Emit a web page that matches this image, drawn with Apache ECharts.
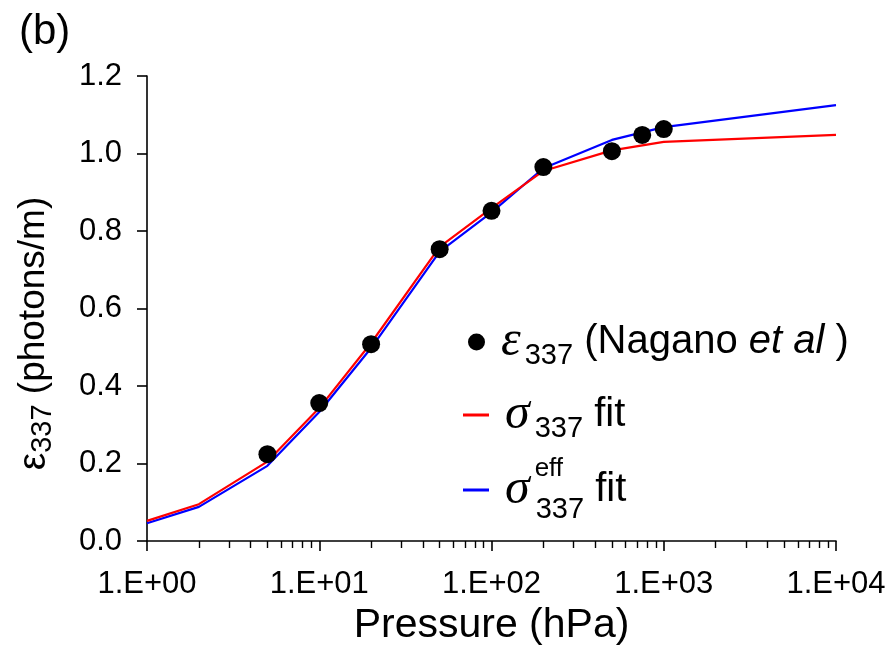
<!DOCTYPE html>
<html><head><meta charset="utf-8">
<script src="https://cdn.jsdelivr.net/npm/echarts@6/dist/echarts.min.js"></script>
<style>html,body{margin:0;padding:0;background:#fff}#c{width:892px;height:658px}</style>
</head><body><div id="c"></div>
<script>
// ---- data ----
const fitPressure = [1, 2, 5, 10, 20, 50, 100, 200, 500, 1000, 10000];
const sigmaFit    = [0.052, 0.095, 0.205, 0.343, 0.511, 0.759, 0.859, 0.955, 1.008, 1.030, 1.048];
const sigmaEffFit = [0.046, 0.088, 0.194, 0.333, 0.498, 0.747, 0.848, 0.962, 1.035, 1.068, 1.125];
const naganoPressure = [5, 10, 20, 50, 100, 200, 500, 750, 1000];
const naganoYield    = [0.224, 0.356, 0.508, 0.753, 0.852, 0.965, 1.006, 1.048, 1.063];
const xTickValues = [1, 10, 100, 1000, 10000];
const xTickLabels = ['1.E+00', '1.E+01', '1.E+02', '1.E+03', '1.E+04'];
const xMinorTickValues = [2,3,4,5,6,7,8,9, 20,30,40,50,60,70,80,90, 200,300,400,500,600,700,800,900, 2000,3000,4000,5000,6000,7000,8000,9000];
const yTickLabels = ['0.0', '0.2', '0.4', '0.6', '0.8', '1.0', '1.2'];

const FONT = 'Liberation Sans';
const SERIF = 'Liberation Serif';
const pair = (xs, ys) => xs.map((x, i) => [x, ys[i]]);

const chart = echarts.init(document.getElementById('c'), null, {renderer: 'canvas'});
const axisColor = '#000';
const H = 56;
const H3 = 68;

function makeRich(h, subH) {
  return {
    sp: {width: 11, lineHeight: h},
    sp2: {width: 11, lineHeight: h},
    gap: {width: 5, lineHeight: h},
    gap2: {width: 4, lineHeight: h},
    eps: {fontFamily: SERIF, fontStyle: 'italic', fontSize: 50, color: '#000', verticalAlign: 'middle', lineHeight: h},
    sig: {fontFamily: SERIF, fontStyle: 'italic', fontSize: 50, color: '#000', verticalAlign: 'middle', lineHeight: h},
    sub: {fontFamily: FONT, fontSize: 29, color: '#000', verticalAlign: 'bottom', lineHeight: subH},
    txt: {fontFamily: FONT, fontSize: 40, color: '#000', verticalAlign: 'middle', lineHeight: h},
    it: {fontFamily: FONT, fontStyle: 'italic', fontSize: 40, color: '#000', verticalAlign: 'middle', lineHeight: h},
    sup: {fontFamily: FONT, fontSize: 26, color: '#000', verticalAlign: 'top', lineHeight: 6, width: 1, align: 'left'}
  };
}

const legendNames = {
  nagano: '{sp|}{eps|ε}{gap2|}{sub|337}{txt| (Nagano }{it|et al}{txt| )}',
  sigma: '{sp2|}{sig|σ}{gap|}{sub|337}{txt| fit}',
  sigmaEff: '{sp2|}{sig|σ}{gap|}{sup|eff}{sub|337}{txt| fit}'
};

const option = {
  animation: false,
  backgroundColor: '#fff',
  title: {
    text: '(b)', left: 19, top: 11, padding: 0,
    textStyle: {fontFamily: FONT, fontSize: 42, fontWeight: 'normal', color: '#000', lineHeight: 42}
  },
  grid: {left: 147, right: 56, top: 76, bottom: 117, containLabel: false, outerBoundsMode: 'none'},
  legend: [
    {
      data: [{name: 'nagano', icon: 'circle'}], left: 468, top: 341 - H / 2 + 4, padding: 0, itemWidth: 17, itemHeight: 17,
      formatter: n => legendNames[n], textStyle: {rich: makeRich(H, 30)}, selectedMode: false
    },
    {
      data: [{name: 'sigma', icon: 'rect'}], left: 463, top: 413 - H / 2 + 5, padding: 0, itemWidth: 26, itemHeight: 3,
      formatter: n => legendNames[n], textStyle: {rich: makeRich(H, 30)}, selectedMode: false
    },
    {
      data: [{name: 'sigmaEff', icon: 'rect'}], left: 463, top: 489 - H3 / 2 + 1, padding: 0, itemWidth: 26, itemHeight: 3,
      formatter: n => legendNames[n], textStyle: {rich: makeRich(H3, 42)}, selectedMode: false
    }
  ],
  xAxis: [
    {
      type: 'log', logBase: 10, min: 1, max: 10000, position: 'bottom',
      axisLine: {show: true, onZero: false, lineStyle: {color: axisColor, width: 1.6}},
      axisTick: {show: true, inside: false, length: 10, customValues: xTickValues, lineStyle: {color: axisColor, width: 1.6}},
      axisLabel: {
        show: true, margin: 28, fontFamily: FONT, fontSize: 31, color: '#000',
        customValues: xTickValues,
        formatter: v => {
          let best = 0;
          xTickValues.forEach((t, i) => { if (Math.abs(Math.log10(v) - Math.log10(t)) < Math.abs(Math.log10(v) - Math.log10(xTickValues[best]))) best = i; });
          return xTickLabels[best];
        }
      },
      splitLine: {show: false},
      name: 'Pressure (hPa)', nameLocation: 'middle', nameGap: 59,
      nameTextStyle: {fontFamily: FONT, fontSize: 41, color: '#000'}
    },
    {
      type: 'log', logBase: 10, min: 1, max: 10000, position: 'bottom',
      axisLine: {show: false},
      axisTick: {show: true, inside: false, length: 7, customValues: xMinorTickValues, lineStyle: {color: axisColor, width: 1.4}},
      axisLabel: {show: false},
      splitLine: {show: false}
    }
  ],
  yAxis: {
    type: 'value', min: 0, max: 1.2, interval: 0.2,
    axisLine: {show: true, lineStyle: {color: axisColor, width: 1.6}},
    axisTick: {show: true, inside: false, length: 10, lineStyle: {color: axisColor, width: 1.6}},
    axisLabel: {
      margin: 25, fontFamily: FONT, fontSize: 31, color: '#000',
      formatter: v => yTickLabels[Math.round(v / 0.2)]
    },
    splitLine: {show: false},
    name: '{e|ε}{s|337}{t| (photons/m)}{pad|}', nameLocation: 'middle', nameGap: 90, nameRotate: 90,
    nameTextStyle: {
      fontFamily: FONT, fontSize: 38,
      rich: {
        e: {fontFamily: FONT, fontSize: 39, color: '#000', verticalAlign: 'middle', lineHeight: 46},
        s: {fontFamily: FONT, fontSize: 29, color: '#000', verticalAlign: 'bottom', lineHeight: 30},
        t: {fontFamily: FONT, fontSize: 37, color: '#000', verticalAlign: 'middle', lineHeight: 46},
        pad: {width: 50, lineHeight: 46}
      }
    }
  },
  series: [
    {
      name: 'sigmaEff', type: 'line', xAxisIndex: 0, data: pair(fitPressure, sigmaEffFit),
      showSymbol: false, symbol: 'none', lineStyle: {color: '#0000ff', width: 2.2}, itemStyle: {color: '#0000ff'}, z: 2
    },
    {
      name: 'sigma', type: 'line', xAxisIndex: 0, data: pair(fitPressure, sigmaFit),
      showSymbol: false, symbol: 'none', lineStyle: {color: '#ff0000', width: 2.2}, itemStyle: {color: '#ff0000'}, z: 3
    },
    {
      name: 'nagano', type: 'scatter', xAxisIndex: 0, data: pair(naganoPressure, naganoYield),
      symbol: 'circle', symbolSize: 18, itemStyle: {color: '#000', opacity: 1}, z: 4
    }
  ]
};
chart.setOption(option);
</script>
</body></html>
